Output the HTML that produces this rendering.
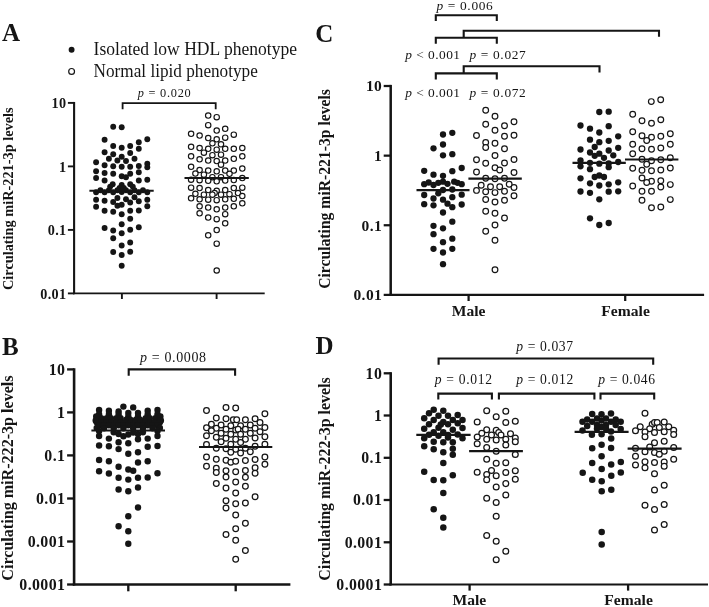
<!DOCTYPE html><html><head><meta charset="utf-8"><title>Figure</title>
<style>html,body{margin:0;padding:0;background:#fff}svg{display:block;will-change:transform}text{font-family:"Liberation Serif",serif;fill:#151515}</style></head><body>
<svg width="709" height="607" viewBox="0 0 709 607">
<rect width="709" height="607" fill="#fff"/>
<text x="2.00" y="41.30" font-size="25" text-anchor="start" font-weight="bold" >A</text>
<text x="2.00" y="354.80" font-size="25" text-anchor="start" font-weight="bold" >B</text>
<text x="315.20" y="41.60" font-size="25" text-anchor="start" font-weight="bold" >C</text>
<text x="315.40" y="354.40" font-size="25" text-anchor="start" font-weight="bold" >D</text>
<circle cx="71.6" cy="49.8" r="2.95" fill="#151515"/>
<circle cx="71.6" cy="71.4" r="2.9" fill="#fff" stroke="#151515" stroke-width="1.2"/>
<text x="93.60" y="55.40" font-size="18.0" text-anchor="start" font-weight="normal" textLength="203.4" lengthAdjust="spacingAndGlyphs">Isolated low HDL phenotype</text>
<text x="93.60" y="76.90" font-size="18.0" text-anchor="start" font-weight="normal" textLength="164.2" lengthAdjust="spacingAndGlyphs">Normal lipid phenotype</text>
<line x1="74.10" y1="101.96" x2="74.10" y2="294.20" stroke="#151515" stroke-width="2.1" stroke-linecap="butt"/>
<line x1="73.05" y1="293.40" x2="264.70" y2="293.40" stroke="#151515" stroke-width="1.827" stroke-linecap="butt"/>
<line x1="67.90" y1="102.90" x2="74.10" y2="102.90" stroke="#151515" stroke-width="1.8900000000000001" stroke-linecap="butt"/>
<text x="66.40" y="108.10" font-size="14.2" text-anchor="end" font-weight="bold" letter-spacing="0.3">10</text>
<line x1="67.90" y1="166.40" x2="74.10" y2="166.40" stroke="#151515" stroke-width="1.8900000000000001" stroke-linecap="butt"/>
<text x="66.40" y="171.60" font-size="14.2" text-anchor="end" font-weight="bold" letter-spacing="0.3">1</text>
<line x1="67.90" y1="229.90" x2="74.10" y2="229.90" stroke="#151515" stroke-width="1.8900000000000001" stroke-linecap="butt"/>
<text x="66.40" y="235.10" font-size="14.2" text-anchor="end" font-weight="bold" letter-spacing="0.3">0.1</text>
<line x1="67.90" y1="293.40" x2="74.10" y2="293.40" stroke="#151515" stroke-width="1.8900000000000001" stroke-linecap="butt"/>
<text x="66.40" y="298.60" font-size="14.2" text-anchor="end" font-weight="bold" letter-spacing="0.3">0.01</text>
<line x1="121.90" y1="293.40" x2="121.90" y2="299.00" stroke="#151515" stroke-width="1.8900000000000001" stroke-linecap="butt"/>
<line x1="216.60" y1="293.40" x2="216.60" y2="299.00" stroke="#151515" stroke-width="1.8900000000000001" stroke-linecap="butt"/>
<text transform="translate(12.50,290.00) rotate(-90)" font-size="14.6" font-weight="bold" textLength="182.6" lengthAdjust="spacingAndGlyphs">Circulating miR-221-3p levels</text>
<path d="M122.60,109.30 V103.10 H215.70 V109.30" fill="none" stroke="#151515" stroke-width="1.8" stroke-linejoin="miter"/>
<text x="137.70" y="96.60" font-size="12.3" word-spacing="0.0" textLength="53.0" lengthAdjust="spacing" xml:space="preserve"><tspan font-style="italic">p</tspan> = 0.020</text>
<g fill="#151515"><circle cx="113.2" cy="126.7" r="2.95"/><circle cx="121.7" cy="127.2" r="2.95"/><circle cx="104.6" cy="139.7" r="2.95"/><circle cx="147.3" cy="139.2" r="2.95"/><circle cx="138.8" cy="142.2" r="2.95"/><circle cx="113.2" cy="146.0" r="2.95"/><circle cx="121.7" cy="147.7" r="2.95"/><circle cx="130.2" cy="146.0" r="2.95"/><circle cx="138.8" cy="148.8" r="2.95"/><circle cx="104.6" cy="152.3" r="2.95"/><circle cx="113.2" cy="154.3" r="2.95"/><circle cx="130.2" cy="153.0" r="2.95"/><circle cx="121.7" cy="156.7" r="2.95"/><circle cx="108.9" cy="158.8" r="2.95"/><circle cx="117.4" cy="160.5" r="2.95"/><circle cx="126.0" cy="161.0" r="2.95"/><circle cx="134.5" cy="158.8" r="2.95"/><circle cx="96.1" cy="162.2" r="2.95"/><circle cx="147.3" cy="163.8" r="2.95"/><circle cx="104.6" cy="165.2" r="2.95"/><circle cx="113.2" cy="166.3" r="2.95"/><circle cx="121.7" cy="166.7" r="2.95"/><circle cx="130.2" cy="166.7" r="2.95"/><circle cx="138.8" cy="166.0" r="2.95"/><circle cx="147.3" cy="167.2" r="2.95"/><circle cx="96.1" cy="171.3" r="2.95"/><circle cx="104.6" cy="173.0" r="2.95"/><circle cx="113.2" cy="173.8" r="2.95"/><circle cx="138.8" cy="172.2" r="2.95"/><circle cx="130.2" cy="173.8" r="2.95"/><circle cx="121.7" cy="176.3" r="2.95"/><circle cx="126.0" cy="177.2" r="2.95"/><circle cx="96.1" cy="178.0" r="2.95"/><circle cx="104.6" cy="180.5" r="2.95"/><circle cx="138.8" cy="180.5" r="2.95"/><circle cx="147.3" cy="179.7" r="2.95"/><circle cx="112.7" cy="184.2" r="2.95"/><circle cx="110.2" cy="186.6" r="2.95"/><circle cx="121.7" cy="185.0" r="2.95"/><circle cx="119.6" cy="188.0" r="2.95"/><circle cx="123.8" cy="188.0" r="2.95"/><circle cx="130.2" cy="184.2" r="2.95"/><circle cx="132.8" cy="186.6" r="2.95"/><circle cx="96.1" cy="192.2" r="2.95"/><circle cx="100.4" cy="190.3" r="2.95"/><circle cx="104.6" cy="192.2" r="2.95"/><circle cx="108.9" cy="190.3" r="2.95"/><circle cx="113.2" cy="192.2" r="2.95"/><circle cx="117.4" cy="190.3" r="2.95"/><circle cx="121.7" cy="192.0" r="2.95"/><circle cx="126.0" cy="190.3" r="2.95"/><circle cx="130.2" cy="192.2" r="2.95"/><circle cx="134.5" cy="190.3" r="2.95"/><circle cx="138.8" cy="192.2" r="2.95"/><circle cx="143.0" cy="190.3" r="2.95"/><circle cx="147.3" cy="192.2" r="2.95"/><circle cx="96.1" cy="199.7" r="2.95"/><circle cx="104.6" cy="200.8" r="2.95"/><circle cx="117.4" cy="198.0" r="2.95"/><circle cx="126.0" cy="199.2" r="2.95"/><circle cx="134.5" cy="197.2" r="2.95"/><circle cx="147.3" cy="199.7" r="2.95"/><circle cx="113.2" cy="202.0" r="2.95"/><circle cx="121.7" cy="204.7" r="2.95"/><circle cx="117.4" cy="205.8" r="2.95"/><circle cx="130.2" cy="202.5" r="2.95"/><circle cx="138.8" cy="201.3" r="2.95"/><circle cx="96.1" cy="206.7" r="2.95"/><circle cx="147.3" cy="206.3" r="2.95"/><circle cx="104.6" cy="210.8" r="2.95"/><circle cx="113.2" cy="211.7" r="2.95"/><circle cx="130.2" cy="210.8" r="2.95"/><circle cx="138.8" cy="210.5" r="2.95"/><circle cx="121.7" cy="214.2" r="2.95"/><circle cx="130.2" cy="218.8" r="2.95"/><circle cx="121.7" cy="224.2" r="2.95"/><circle cx="104.6" cy="228.0" r="2.95"/><circle cx="138.8" cy="227.2" r="2.95"/><circle cx="113.2" cy="230.5" r="2.95"/><circle cx="130.2" cy="229.7" r="2.95"/><circle cx="121.7" cy="233.3" r="2.95"/><circle cx="113.2" cy="238.3" r="2.95"/><circle cx="130.2" cy="242.5" r="2.95"/><circle cx="121.7" cy="245.5" r="2.95"/><circle cx="113.2" cy="252.0" r="2.95"/><circle cx="130.2" cy="251.7" r="2.95"/><circle cx="121.7" cy="255.0" r="2.95"/><circle cx="121.7" cy="265.8" r="2.95"/></g>
<g fill="#fff" stroke="#151515" stroke-width="1.15"><circle cx="208.2" cy="115.5" r="2.7"/><circle cx="216.7" cy="117.2" r="2.7"/><circle cx="208.2" cy="125.2" r="2.7"/><circle cx="216.7" cy="130.5" r="2.7"/><circle cx="225.2" cy="128.8" r="2.7"/><circle cx="191.1" cy="133.8" r="2.7"/><circle cx="199.6" cy="135.5" r="2.7"/><circle cx="233.8" cy="134.7" r="2.7"/><circle cx="208.2" cy="138.0" r="2.7"/><circle cx="216.7" cy="139.3" r="2.7"/><circle cx="225.2" cy="137.7" r="2.7"/><circle cx="212.4" cy="143.3" r="2.7"/><circle cx="221.0" cy="144.3" r="2.7"/><circle cx="191.1" cy="146.8" r="2.7"/><circle cx="199.6" cy="148.0" r="2.7"/><circle cx="208.2" cy="148.8" r="2.7"/><circle cx="216.7" cy="149.7" r="2.7"/><circle cx="225.2" cy="148.8" r="2.7"/><circle cx="233.8" cy="148.8" r="2.7"/><circle cx="242.3" cy="148.0" r="2.7"/><circle cx="203.9" cy="152.7" r="2.7"/><circle cx="212.4" cy="155.2" r="2.7"/><circle cx="221.0" cy="154.7" r="2.7"/><circle cx="191.1" cy="156.3" r="2.7"/><circle cx="242.3" cy="156.3" r="2.7"/><circle cx="199.6" cy="159.3" r="2.7"/><circle cx="208.2" cy="160.5" r="2.7"/><circle cx="216.7" cy="161.0" r="2.7"/><circle cx="225.2" cy="160.5" r="2.7"/><circle cx="233.8" cy="158.8" r="2.7"/><circle cx="221.0" cy="164.7" r="2.7"/><circle cx="191.1" cy="166.8" r="2.7"/><circle cx="242.3" cy="168.5" r="2.7"/><circle cx="199.6" cy="170.0" r="2.7"/><circle cx="208.2" cy="170.5" r="2.7"/><circle cx="216.7" cy="171.3" r="2.7"/><circle cx="225.2" cy="170.5" r="2.7"/><circle cx="233.8" cy="170.5" r="2.7"/><circle cx="195.4" cy="173.5" r="2.7"/><circle cx="203.9" cy="174.7" r="2.7"/><circle cx="229.5" cy="173.8" r="2.7"/><circle cx="212.4" cy="177.2" r="2.7"/><circle cx="221.0" cy="177.2" r="2.7"/><circle cx="242.3" cy="178.0" r="2.7"/><circle cx="191.1" cy="179.7" r="2.7"/><circle cx="199.6" cy="180.2" r="2.7"/><circle cx="208.2" cy="180.8" r="2.7"/><circle cx="216.7" cy="181.3" r="2.7"/><circle cx="225.2" cy="180.5" r="2.7"/><circle cx="233.8" cy="180.0" r="2.7"/><circle cx="191.1" cy="187.7" r="2.7"/><circle cx="199.6" cy="188.0" r="2.7"/><circle cx="233.8" cy="188.0" r="2.7"/><circle cx="242.3" cy="187.7" r="2.7"/><circle cx="208.2" cy="190.0" r="2.7"/><circle cx="216.7" cy="190.8" r="2.7"/><circle cx="225.2" cy="190.0" r="2.7"/><circle cx="214.6" cy="193.0" r="2.7"/><circle cx="195.4" cy="193.8" r="2.7"/><circle cx="203.9" cy="194.7" r="2.7"/><circle cx="212.4" cy="194.7" r="2.7"/><circle cx="221.0" cy="194.7" r="2.7"/><circle cx="229.5" cy="194.2" r="2.7"/><circle cx="238.0" cy="193.0" r="2.7"/><circle cx="242.3" cy="196.0" r="2.7"/><circle cx="191.1" cy="198.3" r="2.7"/><circle cx="199.6" cy="199.3" r="2.7"/><circle cx="208.2" cy="199.7" r="2.7"/><circle cx="216.7" cy="200.2" r="2.7"/><circle cx="225.2" cy="199.3" r="2.7"/><circle cx="233.8" cy="198.8" r="2.7"/><circle cx="242.3" cy="203.3" r="2.7"/><circle cx="199.6" cy="206.3" r="2.7"/><circle cx="208.2" cy="207.5" r="2.7"/><circle cx="216.7" cy="209.3" r="2.7"/><circle cx="225.2" cy="207.5" r="2.7"/><circle cx="233.8" cy="206.3" r="2.7"/><circle cx="199.6" cy="213.3" r="2.7"/><circle cx="225.2" cy="214.2" r="2.7"/><circle cx="208.2" cy="217.5" r="2.7"/><circle cx="216.7" cy="219.2" r="2.7"/><circle cx="225.2" cy="223.3" r="2.7"/><circle cx="216.7" cy="230.0" r="2.7"/><circle cx="208.2" cy="235.3" r="2.7"/><circle cx="216.7" cy="243.7" r="2.7"/><circle cx="216.7" cy="270.5" r="2.7"/></g>
<line x1="89.40" y1="190.80" x2="153.70" y2="190.80" stroke="#151515" stroke-width="1.9" stroke-linecap="butt"/>
<line x1="184.50" y1="178.00" x2="248.80" y2="178.00" stroke="#151515" stroke-width="1.9" stroke-linecap="butt"/>
<line x1="74.10" y1="368.23" x2="74.10" y2="585.49" stroke="#151515" stroke-width="2.6" stroke-linecap="butt"/>
<line x1="72.80" y1="584.50" x2="290.40" y2="584.50" stroke="#151515" stroke-width="2.262" stroke-linecap="butt"/>
<line x1="67.10" y1="369.40" x2="74.10" y2="369.40" stroke="#151515" stroke-width="2.3400000000000003" stroke-linecap="butt"/>
<text x="65.40" y="374.70" font-size="15.9" text-anchor="end" font-weight="bold" letter-spacing="0.4">10</text>
<line x1="67.10" y1="412.40" x2="74.10" y2="412.40" stroke="#151515" stroke-width="2.3400000000000003" stroke-linecap="butt"/>
<text x="65.40" y="417.70" font-size="15.9" text-anchor="end" font-weight="bold" letter-spacing="0.4">1</text>
<line x1="67.10" y1="455.40" x2="74.10" y2="455.40" stroke="#151515" stroke-width="2.3400000000000003" stroke-linecap="butt"/>
<text x="65.40" y="460.70" font-size="15.9" text-anchor="end" font-weight="bold" letter-spacing="0.4">0.1</text>
<line x1="67.10" y1="498.50" x2="74.10" y2="498.50" stroke="#151515" stroke-width="2.3400000000000003" stroke-linecap="butt"/>
<text x="65.40" y="503.80" font-size="15.9" text-anchor="end" font-weight="bold" letter-spacing="0.4">0.01</text>
<line x1="67.10" y1="541.50" x2="74.10" y2="541.50" stroke="#151515" stroke-width="2.3400000000000003" stroke-linecap="butt"/>
<text x="65.40" y="546.80" font-size="15.9" text-anchor="end" font-weight="bold" letter-spacing="0.4">0.001</text>
<line x1="67.10" y1="584.50" x2="74.10" y2="584.50" stroke="#151515" stroke-width="2.3400000000000003" stroke-linecap="butt"/>
<text x="65.40" y="589.80" font-size="15.9" text-anchor="end" font-weight="bold" letter-spacing="0.4">0.0001</text>
<line x1="128.30" y1="584.50" x2="128.30" y2="591.30" stroke="#151515" stroke-width="2.3400000000000003" stroke-linecap="butt"/>
<line x1="235.70" y1="584.50" x2="235.70" y2="591.30" stroke="#151515" stroke-width="2.3400000000000003" stroke-linecap="butt"/>
<text transform="translate(12.50,580.70) rotate(-90)" font-size="16.0" font-weight="bold" textLength="205.3" lengthAdjust="spacingAndGlyphs">Circulating miR-222-3p levels</text>
<path d="M128.70,375.80 V369.40 H235.10 V375.80" fill="none" stroke="#151515" stroke-width="2.1" stroke-linejoin="miter"/>
<text x="140.00" y="362.00" font-size="14.0" word-spacing="0.0" textLength="66.0" lengthAdjust="spacing" xml:space="preserve"><tspan font-style="italic">p</tspan> = 0.0008</text>
<g fill="#151515"><circle cx="123.4" cy="406.6" r="3.2"/><circle cx="133.2" cy="407.4" r="3.2"/><circle cx="99.1" cy="409.9" r="3.2"/><circle cx="108.9" cy="410.7" r="3.2"/><circle cx="118.6" cy="411.4" r="3.2"/><circle cx="128.3" cy="413.0" r="3.2"/><circle cx="138.0" cy="413.0" r="3.2"/><circle cx="147.7" cy="410.8" r="3.2"/><circle cx="157.5" cy="410.0" r="3.2"/><circle cx="99.1" cy="414.2" r="3.2"/><circle cx="97.1" cy="418.2" r="3.2"/><circle cx="101.2" cy="418.2" r="3.2"/><circle cx="108.9" cy="414.2" r="3.2"/><circle cx="106.8" cy="418.2" r="3.2"/><circle cx="110.9" cy="418.2" r="3.2"/><circle cx="118.6" cy="414.2" r="3.2"/><circle cx="116.5" cy="418.2" r="3.2"/><circle cx="120.6" cy="418.2" r="3.2"/><circle cx="147.7" cy="414.2" r="3.2"/><circle cx="145.7" cy="418.2" r="3.2"/><circle cx="149.8" cy="418.2" r="3.2"/><circle cx="157.5" cy="414.2" r="3.2"/><circle cx="155.4" cy="418.2" r="3.2"/><circle cx="159.5" cy="418.2" r="3.2"/><circle cx="128.3" cy="416.4" r="3.2"/><circle cx="126.3" cy="419.8" r="3.2"/><circle cx="130.3" cy="419.8" r="3.2"/><circle cx="138.0" cy="416.4" r="3.2"/><circle cx="136.0" cy="419.8" r="3.2"/><circle cx="140.1" cy="419.8" r="3.2"/><circle cx="96.2" cy="416.5" r="3.2"/><circle cx="160.4" cy="416.5" r="3.2"/><circle cx="95.7" cy="420.5" r="3.2"/><circle cx="160.9" cy="420.5" r="3.2"/><circle cx="96.7" cy="422.2" r="3.2"/><circle cx="101.6" cy="422.2" r="3.2"/><circle cx="106.4" cy="422.2" r="3.2"/><circle cx="111.3" cy="422.2" r="3.2"/><circle cx="116.2" cy="422.2" r="3.2"/><circle cx="121.0" cy="422.2" r="3.2"/><circle cx="125.9" cy="422.2" r="3.2"/><circle cx="130.7" cy="422.2" r="3.2"/><circle cx="135.6" cy="422.2" r="3.2"/><circle cx="140.5" cy="422.2" r="3.2"/><circle cx="145.3" cy="422.2" r="3.2"/><circle cx="150.2" cy="422.2" r="3.2"/><circle cx="155.0" cy="422.2" r="3.2"/><circle cx="159.9" cy="422.2" r="3.2"/><circle cx="99.1" cy="425.2" r="3.2"/><circle cx="104.0" cy="425.2" r="3.2"/><circle cx="108.9" cy="425.2" r="3.2"/><circle cx="113.7" cy="425.2" r="3.2"/><circle cx="118.6" cy="425.2" r="3.2"/><circle cx="123.4" cy="425.2" r="3.2"/><circle cx="128.3" cy="425.2" r="3.2"/><circle cx="133.2" cy="425.2" r="3.2"/><circle cx="138.0" cy="425.2" r="3.2"/><circle cx="142.9" cy="425.2" r="3.2"/><circle cx="147.7" cy="425.2" r="3.2"/><circle cx="152.6" cy="425.2" r="3.2"/><circle cx="157.5" cy="425.2" r="3.2"/><circle cx="104.0" cy="428.3" r="3.2"/><circle cx="113.7" cy="428.3" r="3.2"/><circle cx="123.4" cy="428.3" r="3.2"/><circle cx="133.2" cy="428.3" r="3.2"/><circle cx="142.9" cy="428.3" r="3.2"/><circle cx="152.6" cy="428.3" r="3.2"/><circle cx="96.7" cy="428.0" r="3.2"/><circle cx="159.9" cy="428.0" r="3.2"/><circle cx="99.1" cy="431.0" r="3.2"/><circle cx="157.5" cy="431.0" r="3.2"/><circle cx="118.6" cy="434.0" r="3.2"/><circle cx="128.3" cy="434.5" r="3.2"/><circle cx="138.0" cy="434.0" r="3.2"/><circle cx="113.7" cy="432.2" r="3.2"/><circle cx="142.9" cy="432.2" r="3.2"/><circle cx="133.2" cy="432.5" r="3.2"/><circle cx="99.1" cy="436.0" r="3.2"/><circle cx="108.9" cy="438.6" r="3.2"/><circle cx="123.4" cy="436.2" r="3.2"/><circle cx="138.0" cy="439.2" r="3.2"/><circle cx="147.7" cy="438.6" r="3.2"/><circle cx="157.5" cy="436.0" r="3.2"/><circle cx="118.6" cy="442.2" r="3.2"/><circle cx="128.3" cy="443.3" r="3.2"/><circle cx="99.1" cy="445.5" r="3.2"/><circle cx="108.9" cy="446.3" r="3.2"/><circle cx="147.7" cy="446.7" r="3.2"/><circle cx="157.5" cy="446.0" r="3.2"/><circle cx="118.6" cy="449.1" r="3.2"/><circle cx="138.0" cy="452.3" r="3.2"/><circle cx="128.3" cy="453.8" r="3.2"/><circle cx="99.1" cy="460.0" r="3.2"/><circle cx="108.9" cy="461.3" r="3.2"/><circle cx="138.0" cy="462.5" r="3.2"/><circle cx="147.7" cy="461.3" r="3.2"/><circle cx="118.6" cy="466.7" r="3.2"/><circle cx="128.3" cy="469.5" r="3.2"/><circle cx="133.2" cy="470.8" r="3.2"/><circle cx="99.1" cy="471.2" r="3.2"/><circle cx="108.9" cy="473.5" r="3.2"/><circle cx="157.5" cy="473.2" r="3.2"/><circle cx="118.6" cy="477.8" r="3.2"/><circle cx="128.3" cy="479.6" r="3.2"/><circle cx="138.0" cy="477.8" r="3.2"/><circle cx="147.7" cy="477.5" r="3.2"/><circle cx="118.6" cy="489.5" r="3.2"/><circle cx="128.3" cy="491.3" r="3.2"/><circle cx="138.0" cy="487.5" r="3.2"/><circle cx="138.0" cy="507.5" r="3.2"/><circle cx="128.3" cy="516.3" r="3.2"/><circle cx="118.6" cy="526.2" r="3.2"/><circle cx="128.3" cy="531.3" r="3.2"/><circle cx="128.3" cy="543.8" r="3.2"/></g>
<g fill="#fff" stroke="#151515" stroke-width="1.25"><circle cx="206.5" cy="410.5" r="2.85"/><circle cx="226.0" cy="407.5" r="2.85"/><circle cx="235.7" cy="408.0" r="2.85"/><circle cx="264.9" cy="413.7" r="2.85"/><circle cx="216.3" cy="418.0" r="2.85"/><circle cx="226.0" cy="418.8" r="2.85"/><circle cx="233.3" cy="419.7" r="2.85"/><circle cx="236.7" cy="419.7" r="2.85"/><circle cx="245.4" cy="419.7" r="2.85"/><circle cx="255.1" cy="418.8" r="2.85"/><circle cx="211.4" cy="424.2" r="2.85"/><circle cx="221.1" cy="425.0" r="2.85"/><circle cx="230.8" cy="425.8" r="2.85"/><circle cx="240.6" cy="425.8" r="2.85"/><circle cx="250.3" cy="425.0" r="2.85"/><circle cx="260.0" cy="422.5" r="2.85"/><circle cx="206.5" cy="427.8" r="2.85"/><circle cx="216.3" cy="428.3" r="2.85"/><circle cx="226.0" cy="429.2" r="2.85"/><circle cx="235.7" cy="430.0" r="2.85"/><circle cx="238.1" cy="429.3" r="2.85"/><circle cx="245.4" cy="429.2" r="2.85"/><circle cx="255.1" cy="428.3" r="2.85"/><circle cx="264.9" cy="427.5" r="2.85"/><circle cx="211.4" cy="430.8" r="2.85"/><circle cx="221.1" cy="433.3" r="2.85"/><circle cx="230.8" cy="434.2" r="2.85"/><circle cx="240.6" cy="434.2" r="2.85"/><circle cx="250.3" cy="433.3" r="2.85"/><circle cx="260.0" cy="431.7" r="2.85"/><circle cx="206.5" cy="435.8" r="2.85"/><circle cx="216.3" cy="437.2" r="2.85"/><circle cx="226.0" cy="438.3" r="2.85"/><circle cx="235.7" cy="439.2" r="2.85"/><circle cx="245.4" cy="439.2" r="2.85"/><circle cx="255.1" cy="438.0" r="2.85"/><circle cx="264.9" cy="436.7" r="2.85"/><circle cx="221.1" cy="441.7" r="2.85"/><circle cx="240.6" cy="442.5" r="2.85"/><circle cx="230.8" cy="444.2" r="2.85"/><circle cx="206.5" cy="444.5" r="2.85"/><circle cx="264.9" cy="444.2" r="2.85"/><circle cx="255.1" cy="446.3" r="2.85"/><circle cx="216.3" cy="448.3" r="2.85"/><circle cx="226.0" cy="448.8" r="2.85"/><circle cx="245.4" cy="448.3" r="2.85"/><circle cx="235.7" cy="449.2" r="2.85"/><circle cx="230.8" cy="452.2" r="2.85"/><circle cx="240.6" cy="453.0" r="2.85"/><circle cx="250.3" cy="451.7" r="2.85"/><circle cx="206.5" cy="457.0" r="2.85"/><circle cx="264.9" cy="457.0" r="2.85"/><circle cx="216.3" cy="459.2" r="2.85"/><circle cx="226.0" cy="460.3" r="2.85"/><circle cx="230.8" cy="462.2" r="2.85"/><circle cx="235.7" cy="461.3" r="2.85"/><circle cx="245.4" cy="460.5" r="2.85"/><circle cx="255.1" cy="459.5" r="2.85"/><circle cx="206.5" cy="466.2" r="2.85"/><circle cx="264.9" cy="464.2" r="2.85"/><circle cx="216.3" cy="468.3" r="2.85"/><circle cx="255.1" cy="467.8" r="2.85"/><circle cx="226.0" cy="470.8" r="2.85"/><circle cx="235.7" cy="471.7" r="2.85"/><circle cx="245.4" cy="470.4" r="2.85"/><circle cx="216.3" cy="472.5" r="2.85"/><circle cx="255.1" cy="473.3" r="2.85"/><circle cx="226.0" cy="476.9" r="2.85"/><circle cx="245.4" cy="477.3" r="2.85"/><circle cx="235.7" cy="481.9" r="2.85"/><circle cx="216.3" cy="483.5" r="2.85"/><circle cx="226.0" cy="488.0" r="2.85"/><circle cx="245.4" cy="486.2" r="2.85"/><circle cx="235.7" cy="493.0" r="2.85"/><circle cx="255.1" cy="496.7" r="2.85"/><circle cx="226.0" cy="500.8" r="2.85"/><circle cx="235.7" cy="503.8" r="2.85"/><circle cx="245.4" cy="503.0" r="2.85"/><circle cx="226.0" cy="508.0" r="2.85"/><circle cx="235.7" cy="515.0" r="2.85"/><circle cx="245.4" cy="523.3" r="2.85"/><circle cx="235.7" cy="528.8" r="2.85"/><circle cx="226.0" cy="534.5" r="2.85"/><circle cx="235.7" cy="540.3" r="2.85"/><circle cx="245.4" cy="550.5" r="2.85"/><circle cx="235.7" cy="559.2" r="2.85"/></g>
<line x1="91.40" y1="430.50" x2="165.00" y2="430.50" stroke="#151515" stroke-width="2.2" stroke-linecap="butt"/>
<line x1="199.00" y1="447.00" x2="272.30" y2="447.00" stroke="#151515" stroke-width="2.2" stroke-linecap="butt"/>
<line x1="390.70" y1="84.88" x2="390.70" y2="295.85" stroke="#151515" stroke-width="2.5" stroke-linecap="butt"/>
<line x1="389.45" y1="294.90" x2="704.10" y2="294.90" stroke="#151515" stroke-width="2.175" stroke-linecap="butt"/>
<line x1="383.70" y1="86.00" x2="390.70" y2="86.00" stroke="#151515" stroke-width="2.25" stroke-linecap="butt"/>
<text x="382.20" y="91.30" font-size="15.5" text-anchor="end" font-weight="bold" letter-spacing="0.4">10</text>
<line x1="383.70" y1="155.65" x2="390.70" y2="155.65" stroke="#151515" stroke-width="2.25" stroke-linecap="butt"/>
<text x="382.20" y="160.95" font-size="15.5" text-anchor="end" font-weight="bold" letter-spacing="0.4">1</text>
<line x1="383.70" y1="225.25" x2="390.70" y2="225.25" stroke="#151515" stroke-width="2.25" stroke-linecap="butt"/>
<text x="382.20" y="230.55" font-size="15.5" text-anchor="end" font-weight="bold" letter-spacing="0.4">0.1</text>
<line x1="383.70" y1="294.90" x2="390.70" y2="294.90" stroke="#151515" stroke-width="2.25" stroke-linecap="butt"/>
<text x="382.20" y="300.20" font-size="15.5" text-anchor="end" font-weight="bold" letter-spacing="0.4">0.01</text>
<line x1="468.60" y1="294.90" x2="468.60" y2="301.00" stroke="#151515" stroke-width="2.25" stroke-linecap="butt"/>
<line x1="625.20" y1="294.90" x2="625.20" y2="301.00" stroke="#151515" stroke-width="2.25" stroke-linecap="butt"/>
<text transform="translate(330.10,288.80) rotate(-90)" font-size="15.7" font-weight="bold" textLength="199.7" lengthAdjust="spacingAndGlyphs">Circulating miR-221-3p levels</text>
<text x="468.60" y="315.60" font-size="15.6" text-anchor="middle" font-weight="bold" >Male</text>
<text x="625.60" y="315.60" font-size="15.6" text-anchor="middle" font-weight="bold" >Female</text>
<path d="M435.80,21.00 V15.20 H496.80 V21.00" fill="none" stroke="#151515" stroke-width="2.1" stroke-linejoin="miter"/>
<text x="436.40" y="10.40" font-size="13.4" word-spacing="0.0" textLength="56.4" lengthAdjust="spacing" xml:space="preserve"><tspan font-style="italic">p</tspan> = 0.006</text>
<path d="M435.80,43.70 V37.70 H496.80 V43.70" fill="none" stroke="#151515" stroke-width="2.1" stroke-linejoin="miter"/>
<path d="M463.7,37.7 V30.7 H659.0 V36.8" fill="none" stroke="#151515" stroke-width="2.1" stroke-linejoin="miter"/>
<text x="405.20" y="58.60" font-size="13.4" word-spacing="0.0" textLength="54.8" lengthAdjust="spacing" xml:space="preserve"><tspan font-style="italic">p</tspan> &lt; 0.001</text>
<text x="469.40" y="58.60" font-size="13.4" word-spacing="0.0" textLength="56.4" lengthAdjust="spacing" xml:space="preserve"><tspan font-style="italic">p</tspan> = 0.027</text>
<path d="M435.80,79.40 V73.40 H496.80 V79.40" fill="none" stroke="#151515" stroke-width="2.1" stroke-linejoin="miter"/>
<path d="M463.7,73.4 V66.3 H599.5 V72.4" fill="none" stroke="#151515" stroke-width="2.1" stroke-linejoin="miter"/>
<text x="405.20" y="97.40" font-size="13.4" word-spacing="0.0" textLength="54.8" lengthAdjust="spacing" xml:space="preserve"><tspan font-style="italic">p</tspan> &lt; 0.001</text>
<text x="469.40" y="97.40" font-size="13.4" word-spacing="0.0" textLength="56.4" lengthAdjust="spacing" xml:space="preserve"><tspan font-style="italic">p</tspan> = 0.072</text>
<g fill="#151515"><circle cx="443.0" cy="134.5" r="3.15"/><circle cx="452.3" cy="132.8" r="3.15"/><circle cx="443.0" cy="144.5" r="3.15"/><circle cx="433.5" cy="148.3" r="3.15"/><circle cx="443.0" cy="155.3" r="3.15"/><circle cx="452.3" cy="154.2" r="3.15"/><circle cx="461.7" cy="168.0" r="3.15"/><circle cx="424.2" cy="170.8" r="3.15"/><circle cx="452.3" cy="171.2" r="3.15"/><circle cx="433.5" cy="174.7" r="3.15"/><circle cx="443.0" cy="175.8" r="3.15"/><circle cx="424.2" cy="184.2" r="3.15"/><circle cx="428.7" cy="182.5" r="3.15"/><circle cx="433.5" cy="185.0" r="3.15"/><circle cx="438.3" cy="182.8" r="3.15"/><circle cx="443.0" cy="181.7" r="3.15"/><circle cx="447.5" cy="183.8" r="3.15"/><circle cx="454.2" cy="181.7" r="3.15"/><circle cx="457.5" cy="182.8" r="3.15"/><circle cx="461.7" cy="184.2" r="3.15"/><circle cx="443.0" cy="190.0" r="3.15"/><circle cx="452.3" cy="189.5" r="3.15"/><circle cx="438.3" cy="193.3" r="3.15"/><circle cx="424.2" cy="195.0" r="3.15"/><circle cx="461.7" cy="194.7" r="3.15"/><circle cx="433.5" cy="198.5" r="3.15"/><circle cx="452.3" cy="197.2" r="3.15"/><circle cx="443.0" cy="199.7" r="3.15"/><circle cx="424.2" cy="204.2" r="3.15"/><circle cx="433.5" cy="205.3" r="3.15"/><circle cx="447.5" cy="203.7" r="3.15"/><circle cx="452.3" cy="207.2" r="3.15"/><circle cx="461.7" cy="204.5" r="3.15"/><circle cx="443.0" cy="212.5" r="3.15"/><circle cx="452.3" cy="221.7" r="3.15"/><circle cx="433.5" cy="225.8" r="3.15"/><circle cx="443.0" cy="228.3" r="3.15"/><circle cx="433.5" cy="234.2" r="3.15"/><circle cx="452.3" cy="238.7" r="3.15"/><circle cx="443.0" cy="242.2" r="3.15"/><circle cx="433.5" cy="248.8" r="3.15"/><circle cx="452.3" cy="248.8" r="3.15"/><circle cx="443.0" cy="252.5" r="3.15"/><circle cx="443.0" cy="264.2" r="3.15"/></g>
<g fill="#fff" stroke="#151515" stroke-width="1.2"><circle cx="485.7" cy="110.3" r="2.85"/><circle cx="495.0" cy="116.2" r="2.85"/><circle cx="514.0" cy="121.7" r="2.85"/><circle cx="485.7" cy="124.2" r="2.85"/><circle cx="504.5" cy="125.8" r="2.85"/><circle cx="495.0" cy="130.3" r="2.85"/><circle cx="476.5" cy="135.5" r="2.85"/><circle cx="504.5" cy="136.3" r="2.85"/><circle cx="514.0" cy="135.3" r="2.85"/><circle cx="485.7" cy="142.5" r="2.85"/><circle cx="495.0" cy="143.3" r="2.85"/><circle cx="485.7" cy="147.5" r="2.85"/><circle cx="504.5" cy="148.8" r="2.85"/><circle cx="495.0" cy="155.5" r="2.85"/><circle cx="476.5" cy="159.7" r="2.85"/><circle cx="514.0" cy="159.5" r="2.85"/><circle cx="485.7" cy="163.3" r="2.85"/><circle cx="504.5" cy="163.0" r="2.85"/><circle cx="495.0" cy="167.8" r="2.85"/><circle cx="499.7" cy="170.0" r="2.85"/><circle cx="476.5" cy="172.0" r="2.85"/><circle cx="514.0" cy="172.5" r="2.85"/><circle cx="485.7" cy="178.3" r="2.85"/><circle cx="495.0" cy="178.8" r="2.85"/><circle cx="504.5" cy="178.3" r="2.85"/><circle cx="481.2" cy="185.3" r="2.85"/><circle cx="490.5" cy="186.8" r="2.85"/><circle cx="499.7" cy="186.8" r="2.85"/><circle cx="509.2" cy="184.2" r="2.85"/><circle cx="514.0" cy="187.5" r="2.85"/><circle cx="476.5" cy="190.4" r="2.85"/><circle cx="485.7" cy="191.8" r="2.85"/><circle cx="495.0" cy="192.6" r="2.85"/><circle cx="504.5" cy="191.3" r="2.85"/><circle cx="514.0" cy="195.8" r="2.85"/><circle cx="485.7" cy="199.5" r="2.85"/><circle cx="504.5" cy="200.3" r="2.85"/><circle cx="495.0" cy="202.0" r="2.85"/><circle cx="485.7" cy="211.3" r="2.85"/><circle cx="495.0" cy="213.3" r="2.85"/><circle cx="504.5" cy="218.0" r="2.85"/><circle cx="495.0" cy="225.0" r="2.85"/><circle cx="485.7" cy="231.3" r="2.85"/><circle cx="495.0" cy="240.3" r="2.85"/><circle cx="495.0" cy="269.7" r="2.85"/></g>
<g fill="#151515"><circle cx="599.3" cy="112.0" r="3.15"/><circle cx="608.7" cy="111.7" r="3.15"/><circle cx="580.5" cy="125.5" r="3.15"/><circle cx="608.7" cy="126.2" r="3.15"/><circle cx="590.0" cy="128.7" r="3.15"/><circle cx="599.3" cy="132.5" r="3.15"/><circle cx="618.2" cy="136.3" r="3.15"/><circle cx="590.0" cy="139.7" r="3.15"/><circle cx="608.7" cy="140.8" r="3.15"/><circle cx="599.3" cy="142.2" r="3.15"/><circle cx="594.7" cy="147.0" r="3.15"/><circle cx="618.2" cy="147.8" r="3.15"/><circle cx="580.5" cy="149.5" r="3.15"/><circle cx="608.7" cy="150.5" r="3.15"/><circle cx="590.0" cy="152.5" r="3.15"/><circle cx="599.3" cy="153.7" r="3.15"/><circle cx="594.7" cy="155.8" r="3.15"/><circle cx="613.3" cy="155.3" r="3.15"/><circle cx="604.0" cy="157.8" r="3.15"/><circle cx="580.5" cy="160.3" r="3.15"/><circle cx="618.2" cy="162.0" r="3.15"/><circle cx="590.0" cy="162.8" r="3.15"/><circle cx="599.3" cy="163.7" r="3.15"/><circle cx="608.7" cy="163.3" r="3.15"/><circle cx="580.5" cy="166.3" r="3.15"/><circle cx="608.7" cy="167.2" r="3.15"/><circle cx="590.0" cy="169.2" r="3.15"/><circle cx="599.3" cy="175.5" r="3.15"/><circle cx="594.7" cy="177.0" r="3.15"/><circle cx="604.0" cy="177.0" r="3.15"/><circle cx="580.5" cy="178.3" r="3.15"/><circle cx="590.0" cy="183.3" r="3.15"/><circle cx="618.2" cy="182.3" r="3.15"/><circle cx="608.7" cy="184.3" r="3.15"/><circle cx="599.3" cy="185.5" r="3.15"/><circle cx="580.5" cy="191.5" r="3.15"/><circle cx="590.0" cy="192.8" r="3.15"/><circle cx="608.7" cy="191.7" r="3.15"/><circle cx="618.2" cy="191.3" r="3.15"/><circle cx="599.3" cy="199.3" r="3.15"/><circle cx="590.0" cy="218.3" r="3.15"/><circle cx="599.3" cy="225.0" r="3.15"/><circle cx="608.7" cy="223.0" r="3.15"/></g>
<g fill="#fff" stroke="#151515" stroke-width="1.2"><circle cx="651.3" cy="101.6" r="2.85"/><circle cx="660.7" cy="99.8" r="2.85"/><circle cx="632.7" cy="114.2" r="2.85"/><circle cx="642.0" cy="120.8" r="2.85"/><circle cx="660.8" cy="119.7" r="2.85"/><circle cx="651.5" cy="123.3" r="2.85"/><circle cx="632.7" cy="131.7" r="2.85"/><circle cx="670.3" cy="133.8" r="2.85"/><circle cx="642.0" cy="135.8" r="2.85"/><circle cx="651.5" cy="137.2" r="2.85"/><circle cx="660.8" cy="136.3" r="2.85"/><circle cx="646.7" cy="140.5" r="2.85"/><circle cx="632.7" cy="144.2" r="2.85"/><circle cx="670.3" cy="144.2" r="2.85"/><circle cx="642.0" cy="148.7" r="2.85"/><circle cx="651.5" cy="149.2" r="2.85"/><circle cx="660.8" cy="148.0" r="2.85"/><circle cx="632.7" cy="153.7" r="2.85"/><circle cx="642.0" cy="159.2" r="2.85"/><circle cx="651.5" cy="160.8" r="2.85"/><circle cx="660.8" cy="159.7" r="2.85"/><circle cx="670.3" cy="157.8" r="2.85"/><circle cx="646.7" cy="164.2" r="2.85"/><circle cx="632.7" cy="168.3" r="2.85"/><circle cx="670.3" cy="168.0" r="2.85"/><circle cx="642.0" cy="170.3" r="2.85"/><circle cx="651.5" cy="170.8" r="2.85"/><circle cx="660.8" cy="170.0" r="2.85"/><circle cx="642.0" cy="178.0" r="2.85"/><circle cx="651.5" cy="181.2" r="2.85"/><circle cx="646.7" cy="182.5" r="2.85"/><circle cx="660.8" cy="180.8" r="2.85"/><circle cx="632.7" cy="186.0" r="2.85"/><circle cx="670.3" cy="184.6" r="2.85"/><circle cx="660.8" cy="187.0" r="2.85"/><circle cx="642.0" cy="191.2" r="2.85"/><circle cx="651.5" cy="191.3" r="2.85"/><circle cx="642.0" cy="200.2" r="2.85"/><circle cx="670.3" cy="199.6" r="2.85"/><circle cx="651.5" cy="207.8" r="2.85"/><circle cx="660.8" cy="207.0" r="2.85"/></g>
<line x1="416.50" y1="190.20" x2="469.50" y2="190.20" stroke="#151515" stroke-width="2.2" stroke-linecap="butt"/>
<line x1="468.40" y1="178.70" x2="521.80" y2="178.70" stroke="#151515" stroke-width="2.2" stroke-linecap="butt"/>
<line x1="572.50" y1="162.80" x2="625.80" y2="162.80" stroke="#151515" stroke-width="2.2" stroke-linecap="butt"/>
<line x1="625.00" y1="159.50" x2="678.40" y2="159.50" stroke="#151515" stroke-width="2.2" stroke-linecap="butt"/>
<line x1="390.70" y1="372.15" x2="390.70" y2="585.47" stroke="#151515" stroke-width="2.55" stroke-linecap="butt"/>
<line x1="389.43" y1="584.50" x2="708.00" y2="584.50" stroke="#151515" stroke-width="2.2184999999999997" stroke-linecap="butt"/>
<line x1="383.70" y1="373.30" x2="390.70" y2="373.30" stroke="#151515" stroke-width="2.295" stroke-linecap="butt"/>
<text x="382.20" y="378.60" font-size="15.8" text-anchor="end" font-weight="bold" letter-spacing="0.4">10</text>
<line x1="383.70" y1="415.50" x2="390.70" y2="415.50" stroke="#151515" stroke-width="2.295" stroke-linecap="butt"/>
<text x="382.20" y="420.80" font-size="15.8" text-anchor="end" font-weight="bold" letter-spacing="0.4">1</text>
<line x1="383.70" y1="457.80" x2="390.70" y2="457.80" stroke="#151515" stroke-width="2.295" stroke-linecap="butt"/>
<text x="382.20" y="463.10" font-size="15.8" text-anchor="end" font-weight="bold" letter-spacing="0.4">0.1</text>
<line x1="383.70" y1="500.00" x2="390.70" y2="500.00" stroke="#151515" stroke-width="2.295" stroke-linecap="butt"/>
<text x="382.20" y="505.30" font-size="15.8" text-anchor="end" font-weight="bold" letter-spacing="0.4">0.01</text>
<line x1="383.70" y1="542.30" x2="390.70" y2="542.30" stroke="#151515" stroke-width="2.295" stroke-linecap="butt"/>
<text x="382.20" y="547.60" font-size="15.8" text-anchor="end" font-weight="bold" letter-spacing="0.4">0.001</text>
<line x1="383.70" y1="584.50" x2="390.70" y2="584.50" stroke="#151515" stroke-width="2.295" stroke-linecap="butt"/>
<text x="382.20" y="589.80" font-size="15.8" text-anchor="end" font-weight="bold" letter-spacing="0.4">0.0001</text>
<line x1="469.60" y1="584.50" x2="469.60" y2="590.60" stroke="#151515" stroke-width="2.295" stroke-linecap="butt"/>
<line x1="628.10" y1="584.50" x2="628.10" y2="590.60" stroke="#151515" stroke-width="2.295" stroke-linecap="butt"/>
<text transform="translate(330.10,580.70) rotate(-90)" font-size="16.0" font-weight="bold" textLength="203.5" lengthAdjust="spacingAndGlyphs">Circulating miR-222-3p levels</text>
<text x="469.40" y="604.80" font-size="15.6" text-anchor="middle" font-weight="bold" >Male</text>
<text x="628.60" y="604.80" font-size="15.6" text-anchor="middle" font-weight="bold" >Female</text>
<path d="M438.60,364.70 V358.50 H653.20 V364.70" fill="none" stroke="#151515" stroke-width="2.1" stroke-linejoin="miter"/>
<text x="516.20" y="351.00" font-size="13.6" word-spacing="0.0" textLength="56.8" lengthAdjust="spacing" xml:space="preserve"><tspan font-style="italic">p</tspan> = 0.037</text>
<path d="M438.30,399.50 V393.60 H491.90 V399.50" fill="none" stroke="#151515" stroke-width="2.1" stroke-linejoin="miter"/>
<path d="M498.90,399.50 V393.60 H594.40 V399.50" fill="none" stroke="#151515" stroke-width="2.1" stroke-linejoin="miter"/>
<path d="M600.50,399.50 V393.60 H654.20 V399.50" fill="none" stroke="#151515" stroke-width="2.1" stroke-linejoin="miter"/>
<text x="434.70" y="383.90" font-size="13.6" word-spacing="0.0" textLength="57.3" lengthAdjust="spacing" xml:space="preserve"><tspan font-style="italic">p</tspan> = 0.012</text>
<text x="516.20" y="383.90" font-size="13.6" word-spacing="0.0" textLength="57.0" lengthAdjust="spacing" xml:space="preserve"><tspan font-style="italic">p</tspan> = 0.012</text>
<text x="598.20" y="383.90" font-size="13.6" word-spacing="0.0" textLength="56.8" lengthAdjust="spacing" xml:space="preserve"><tspan font-style="italic">p</tspan> = 0.046</text>
<g fill="#151515"><circle cx="433.7" cy="409.7" r="3.25"/><circle cx="443.3" cy="410.8" r="3.25"/><circle cx="429.0" cy="413.3" r="3.25"/><circle cx="438.5" cy="415.8" r="3.25"/><circle cx="448.0" cy="415.8" r="3.25"/><circle cx="457.7" cy="415.0" r="3.25"/><circle cx="424.2" cy="418.3" r="3.25"/><circle cx="433.7" cy="420.0" r="3.25"/><circle cx="443.3" cy="422.0" r="3.25"/><circle cx="452.8" cy="420.0" r="3.25"/><circle cx="462.5" cy="420.0" r="3.25"/><circle cx="429.0" cy="424.2" r="3.25"/><circle cx="440.8" cy="424.5" r="3.25"/><circle cx="448.0" cy="424.2" r="3.25"/><circle cx="457.7" cy="423.3" r="3.25"/><circle cx="424.2" cy="428.7" r="3.25"/><circle cx="438.5" cy="427.8" r="3.25"/><circle cx="452.8" cy="429.7" r="3.25"/><circle cx="462.5" cy="428.0" r="3.25"/><circle cx="433.7" cy="432.2" r="3.25"/><circle cx="443.3" cy="432.2" r="3.25"/><circle cx="429.0" cy="434.7" r="3.25"/><circle cx="438.5" cy="435.8" r="3.25"/><circle cx="448.0" cy="435.0" r="3.25"/><circle cx="457.7" cy="434.5" r="3.25"/><circle cx="424.2" cy="438.3" r="3.25"/><circle cx="462.5" cy="438.3" r="3.25"/><circle cx="448.0" cy="437.5" r="3.25"/><circle cx="433.7" cy="441.7" r="3.25"/><circle cx="443.3" cy="442.2" r="3.25"/><circle cx="452.8" cy="442.2" r="3.25"/><circle cx="424.2" cy="446.2" r="3.25"/><circle cx="433.7" cy="449.2" r="3.25"/><circle cx="452.8" cy="448.8" r="3.25"/><circle cx="443.3" cy="452.2" r="3.25"/><circle cx="452.8" cy="454.7" r="3.25"/><circle cx="443.3" cy="463.0" r="3.25"/><circle cx="424.2" cy="471.7" r="3.25"/><circle cx="452.8" cy="475.3" r="3.25"/><circle cx="433.7" cy="480.0" r="3.25"/><circle cx="443.3" cy="480.3" r="3.25"/><circle cx="443.3" cy="493.0" r="3.25"/><circle cx="433.7" cy="509.2" r="3.25"/><circle cx="443.3" cy="517.8" r="3.25"/><circle cx="443.3" cy="527.5" r="3.25"/></g>
<g fill="#fff" stroke="#151515" stroke-width="1.25"><circle cx="486.7" cy="410.8" r="2.9"/><circle cx="505.8" cy="411.3" r="2.9"/><circle cx="496.2" cy="416.7" r="2.9"/><circle cx="477.2" cy="422.0" r="2.9"/><circle cx="505.8" cy="422.5" r="2.9"/><circle cx="515.3" cy="421.2" r="2.9"/><circle cx="486.7" cy="429.7" r="2.9"/><circle cx="496.2" cy="430.3" r="2.9"/><circle cx="498.7" cy="432.5" r="2.9"/><circle cx="481.8" cy="433.3" r="2.9"/><circle cx="491.5" cy="435.0" r="2.9"/><circle cx="501.0" cy="435.0" r="2.9"/><circle cx="510.5" cy="433.7" r="2.9"/><circle cx="477.2" cy="437.0" r="2.9"/><circle cx="515.3" cy="438.0" r="2.9"/><circle cx="486.7" cy="439.2" r="2.9"/><circle cx="496.2" cy="440.0" r="2.9"/><circle cx="505.8" cy="439.2" r="2.9"/><circle cx="515.3" cy="441.7" r="2.9"/><circle cx="477.2" cy="443.8" r="2.9"/><circle cx="505.8" cy="445.0" r="2.9"/><circle cx="486.7" cy="447.5" r="2.9"/><circle cx="496.2" cy="451.2" r="2.9"/><circle cx="515.3" cy="454.5" r="2.9"/><circle cx="486.7" cy="459.2" r="2.9"/><circle cx="496.2" cy="463.3" r="2.9"/><circle cx="505.8" cy="462.8" r="2.9"/><circle cx="477.2" cy="472.3" r="2.9"/><circle cx="491.5" cy="470.4" r="2.9"/><circle cx="515.3" cy="470.8" r="2.9"/><circle cx="505.8" cy="472.5" r="2.9"/><circle cx="486.7" cy="474.6" r="2.9"/><circle cx="496.2" cy="475.7" r="2.9"/><circle cx="486.7" cy="479.7" r="2.9"/><circle cx="515.3" cy="479.2" r="2.9"/><circle cx="505.8" cy="483.6" r="2.9"/><circle cx="496.2" cy="487.0" r="2.9"/><circle cx="505.8" cy="495.0" r="2.9"/><circle cx="486.7" cy="498.3" r="2.9"/><circle cx="496.2" cy="502.5" r="2.9"/><circle cx="496.2" cy="516.3" r="2.9"/><circle cx="486.7" cy="535.5" r="2.9"/><circle cx="496.2" cy="541.3" r="2.9"/><circle cx="505.8" cy="551.2" r="2.9"/><circle cx="496.2" cy="559.7" r="2.9"/></g>
<g fill="#151515"><circle cx="592.2" cy="414.0" r="3.25"/><circle cx="601.5" cy="414.3" r="3.25"/><circle cx="611.0" cy="413.6" r="3.25"/><circle cx="587.2" cy="419.5" r="3.25"/><circle cx="597.0" cy="418.5" r="3.25"/><circle cx="606.0" cy="418.5" r="3.25"/><circle cx="615.7" cy="419.5" r="3.25"/><circle cx="582.5" cy="421.8" r="3.25"/><circle cx="620.7" cy="421.8" r="3.25"/><circle cx="592.2" cy="421.8" r="3.25"/><circle cx="601.5" cy="420.5" r="3.25"/><circle cx="611.0" cy="421.8" r="3.25"/><circle cx="587.2" cy="426.0" r="3.25"/><circle cx="597.0" cy="425.0" r="3.25"/><circle cx="606.0" cy="425.0" r="3.25"/><circle cx="615.7" cy="425.0" r="3.25"/><circle cx="601.5" cy="427.0" r="3.25"/><circle cx="597.0" cy="428.7" r="3.25"/><circle cx="606.0" cy="428.7" r="3.25"/><circle cx="582.5" cy="430.6" r="3.25"/><circle cx="620.7" cy="429.1" r="3.25"/><circle cx="611.0" cy="431.6" r="3.25"/><circle cx="591.9" cy="434.8" r="3.25"/><circle cx="601.6" cy="434.2" r="3.25"/><circle cx="611.2" cy="438.6" r="3.25"/><circle cx="601.6" cy="444.8" r="3.25"/><circle cx="592.2" cy="448.3" r="3.25"/><circle cx="611.1" cy="448.1" r="3.25"/><circle cx="601.6" cy="456.3" r="3.25"/><circle cx="592.2" cy="463.1" r="3.25"/><circle cx="620.8" cy="462.1" r="3.25"/><circle cx="611.2" cy="464.5" r="3.25"/><circle cx="601.7" cy="468.9" r="3.25"/><circle cx="582.7" cy="472.8" r="3.25"/><circle cx="620.8" cy="472.5" r="3.25"/><circle cx="611.3" cy="475.8" r="3.25"/><circle cx="592.2" cy="479.7" r="3.25"/><circle cx="601.7" cy="481.3" r="3.25"/><circle cx="601.7" cy="491.2" r="3.25"/><circle cx="611.3" cy="489.7" r="3.25"/><circle cx="601.7" cy="532.0" r="3.25"/><circle cx="601.7" cy="544.5" r="3.25"/></g>
<g fill="#fff" stroke="#151515" stroke-width="1.25"><circle cx="645.0" cy="413.3" r="2.9"/><circle cx="652.2" cy="424.2" r="2.9"/><circle cx="654.5" cy="422.5" r="2.9"/><circle cx="657.2" cy="422.5" r="2.9"/><circle cx="664.2" cy="422.0" r="2.9"/><circle cx="640.2" cy="426.7" r="2.9"/><circle cx="649.7" cy="428.7" r="2.9"/><circle cx="659.3" cy="427.5" r="2.9"/><circle cx="668.8" cy="426.7" r="2.9"/><circle cx="635.5" cy="430.8" r="2.9"/><circle cx="645.0" cy="432.0" r="2.9"/><circle cx="654.5" cy="432.5" r="2.9"/><circle cx="664.2" cy="431.7" r="2.9"/><circle cx="673.7" cy="430.3" r="2.9"/><circle cx="673.7" cy="434.5" r="2.9"/><circle cx="645.0" cy="436.7" r="2.9"/><circle cx="664.2" cy="441.2" r="2.9"/><circle cx="654.5" cy="442.8" r="2.9"/><circle cx="649.7" cy="447.0" r="2.9"/><circle cx="635.5" cy="448.3" r="2.9"/><circle cx="673.7" cy="447.5" r="2.9"/><circle cx="645.0" cy="451.7" r="2.9"/><circle cx="654.5" cy="452.5" r="2.9"/><circle cx="664.2" cy="451.3" r="2.9"/><circle cx="659.3" cy="454.2" r="2.9"/><circle cx="635.5" cy="456.2" r="2.9"/><circle cx="673.7" cy="459.2" r="2.9"/><circle cx="645.0" cy="461.7" r="2.9"/><circle cx="654.5" cy="462.5" r="2.9"/><circle cx="664.2" cy="462.0" r="2.9"/><circle cx="635.5" cy="465.0" r="2.9"/><circle cx="664.2" cy="466.2" r="2.9"/><circle cx="645.0" cy="467.8" r="2.9"/><circle cx="654.5" cy="473.7" r="2.9"/><circle cx="664.2" cy="485.3" r="2.9"/><circle cx="654.5" cy="490.0" r="2.9"/><circle cx="645.0" cy="505.3" r="2.9"/><circle cx="664.2" cy="504.5" r="2.9"/><circle cx="654.5" cy="509.5" r="2.9"/><circle cx="664.2" cy="524.5" r="2.9"/><circle cx="654.5" cy="530.0" r="2.9"/></g>
<line x1="416.30" y1="434.80" x2="470.60" y2="434.80" stroke="#151515" stroke-width="2.2" stroke-linecap="butt"/>
<line x1="469.10" y1="451.10" x2="522.90" y2="451.10" stroke="#151515" stroke-width="2.2" stroke-linecap="butt"/>
<line x1="574.60" y1="431.80" x2="628.60" y2="431.80" stroke="#151515" stroke-width="2.2" stroke-linecap="butt"/>
<line x1="627.60" y1="448.60" x2="681.60" y2="448.60" stroke="#151515" stroke-width="2.2" stroke-linecap="butt"/>
</svg></body></html>
